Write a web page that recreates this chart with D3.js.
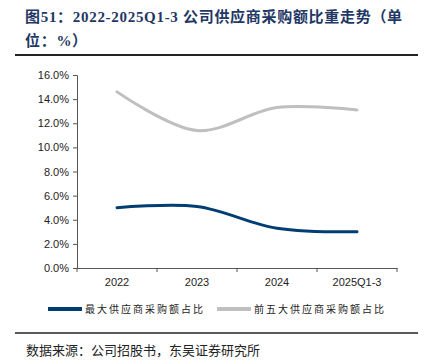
<!DOCTYPE html>
<html lang="zh-CN">
<head>
<meta charset="utf-8">
<title>公司供应商采购额比重走势</title>
<style>
html,body{margin:0;padding:0;background:#fff;}
svg{display:block;font-family:"Liberation Sans","DejaVu Sans",sans-serif;}
.title{font-family:"Liberation Serif","Noto Sans CJK SC",serif;font-weight:bold;fill:#1f3864;font-size:15px;letter-spacing:0.7px;}
.axis text{font-size:11px;fill:#222;}
.axis path,.axis line{stroke:#555;}
.legend text{font-family:"Noto Sans CJK SC",sans-serif;font-size:10px;fill:#222;letter-spacing:2px;}
.source{font-family:"Noto Sans CJK SC",sans-serif;font-size:13px;fill:#222;}
</style>
</head>
<body>
<div id="chart"></div>
<script src="https://cdn.jsdelivr.net/npm/d3@7"></script>
<script>
// ---- data ----
const categories = ['2022', '2023', '2024', '2025Q1-3'];
const topSupplier = [5.0, 5.1, 3.3, 3.0];     // 最大供应商采购额占比
const topFive     = [14.6, 11.4, 13.3, 13.1]; // 前五大供应商采购额占比
const yTicks = [0, 2, 4, 6, 8, 10, 12, 14, 16];
const seriesNames = ['最大供应商采购额占比', '前五大供应商采购额占比'];
const colors = ['#003d73', '#bfbfbf'];

const W = 424, H = 364;
const svg = d3.select('#chart').append('svg').attr('width', W).attr('height', H);

// title
svg.append('text').attr('class','title').attr('x', 25).attr('y', 22)
  .text('图51：2022-2025Q1-3 公司供应商采购额比重走势（单');
svg.append('text').attr('class','title').attr('x', 25).attr('y', 46)
  .text('位：%）');
svg.append('line').attr('x1', 15).attr('x2', 418).attr('y1', 55).attr('y2', 55)
  .attr('stroke', '#222').attr('stroke-width', 2);

// scales
const x = d3.scaleBand().domain(categories).range([77, 397]);
const y = d3.scaleLinear().domain([0, 16]).range([268, 75]);

// y axis
const yAxis = svg.append('g').attr('class','axis').attr('transform','translate(77,0)')
  .call(d3.axisLeft(y).tickValues(yTicks).tickSize(4).tickFormat(d => d.toFixed(1) + '%'));
yAxis.selectAll('text').attr('x', -8);

// x axis
const xAxis = svg.append('g').attr('class','axis').attr('transform','translate(0,268)')
  .call(d3.axisBottom(x).tickSize(0).tickSizeOuter(0));
xAxis.selectAll('text').attr('dy', '1.35em');
xAxis.selectAll('.sep').data(d3.range(categories.length + 1)).join('line')
  .attr('class','sep')
  .attr('x1', i => x.range()[0] + i * x.step()).attr('x2', i => x.range()[0] + i * x.step())
  .attr('y1', 0).attr('y2', 4).attr('stroke', '#555');

// lines
const line = d3.line()
  .x((d, i) => x(categories[i]) + x.bandwidth() / 2)
  .y(d => y(d))
  .curve(d3.curveCatmullRom.alpha(0.5));

[topSupplier, topFive].forEach((s, k) => {
  svg.append('path').datum(s).attr('d', line)
    .attr('fill', 'none').attr('stroke', colors[k]).attr('stroke-width', 3)
    .attr('stroke-linecap', 'round');
});

// legend
const legend = svg.append('g').attr('class','legend');
const legX = [48, 217];
seriesNames.forEach((n, k) => {
  legend.append('line').attr('x1', legX[k]).attr('x2', legX[k] + 34)
    .attr('y1', 309).attr('y2', 309).attr('stroke', colors[k]).attr('stroke-width', 4);
  legend.append('text').attr('x', legX[k] + 37).attr('y', 313).text(n);
});

// source
svg.append('line').attr('x1', 15).attr('x2', 418).attr('y1', 333).attr('y2', 333)
  .attr('stroke', '#222').attr('stroke-width', 1.5);
svg.append('text').attr('class','source').attr('x', 26).attr('y', 355)
  .text('数据来源：公司招股书，东吴证券研究所');
</script>
</body>
</html>
